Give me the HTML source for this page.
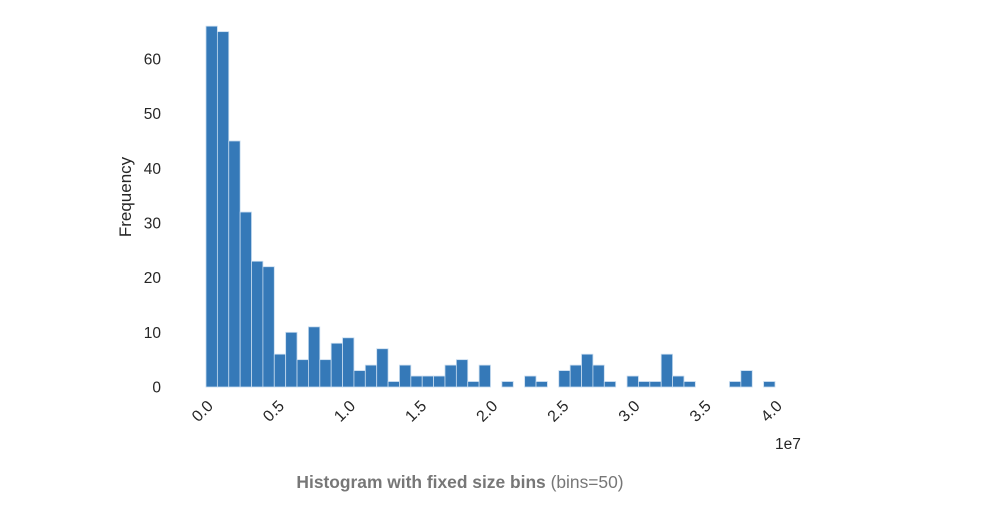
<!DOCTYPE html>
<html><head><meta charset="utf-8"><style>
body{margin:0;background:#fff;}
svg text{font-family:"Liberation Sans",sans-serif;fill:#262626;}
</style></head><body>
<svg id="chart" width="1003" height="513">
<g id="bars"></g><g id="yticks"></g><g id="xticks"></g>
<text x="131" y="197" font-size="17" text-anchor="middle" transform="rotate(-90 131 197)">Frequency</text>
<text x="775" y="449" font-size="15.5">1e7</text>
<text x="460" y="488" font-size="17.4" text-anchor="middle" style="fill:#777"><tspan font-weight="bold" style="fill:#777">Histogram with fixed size bins</tspan> (bins=50)</text>
</svg>
<script>
const counts=[66,65,45,32,23,22,6,10,5,11,5,8,9,3,4,7,1,4,2,2,2,4,5,1,4,0,1,0,2,1,0,3,4,6,4,1,0,2,1,1,6,2,1,0,0,0,1,3,0,1];
const xMin=0,xMax=4.0;
const yTicks=[0,10,20,30,40,50,60];
const xTicks=[0.0,0.5,1.0,1.5,2.0,2.5,3.0,3.5,4.0];
const NS="http://www.w3.org/2000/svg";
const x0=206,x1=775,y0=387,yPer=5.467;
function xs(v){return x0+(v-xMin)/(xMax-xMin)*(x1-x0);}
function ys(v){return y0-v*yPer;}
const bw=(xMax-xMin)/counts.length;
const gb=document.getElementById('bars');
counts.forEach((c,i)=>{if(!c)return;
 const r=document.createElementNS(NS,'rect');
 const a=xs(xMin+i*bw),b=xs(xMin+(i+1)*bw);
 r.setAttribute('x',a);r.setAttribute('width',b-a);
 r.setAttribute('y',ys(c));r.setAttribute('height',y0-ys(c));
 r.setAttribute('fill','#3579b8');r.setAttribute('stroke','#c6dbef');r.setAttribute('stroke-width','0.8');
 
 
 gb.appendChild(r);});
const gy=document.getElementById('yticks');
yTicks.forEach(t=>{const e=document.createElementNS(NS,'text');
 e.setAttribute('x',161);e.setAttribute('y',ys(t)+5.5);e.setAttribute('font-size','15.5');e.setAttribute('text-anchor','end');
 e.textContent=t;
 
 
 gy.appendChild(e);});
const gx=document.getElementById('xticks');
xTicks.forEach(t=>{const e=document.createElementNS(NS,'text');
 const px=xs(t)+8,py=407;
 e.setAttribute('x',px);e.setAttribute('y',py);e.setAttribute('font-size','16');e.setAttribute('text-anchor','end');
 e.setAttribute('transform','rotate(-45 '+px+' '+py+')');
 e.textContent=t.toFixed(1);
 
 
 gx.appendChild(e);});
</script>
</body></html>
